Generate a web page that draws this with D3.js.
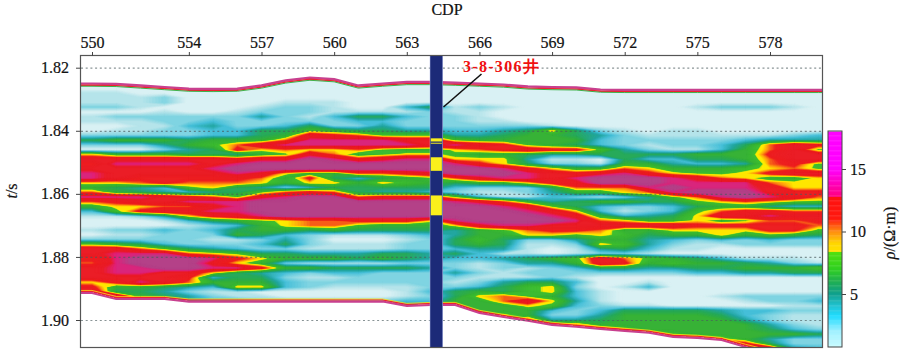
<!DOCTYPE html>
<html><head><meta charset="utf-8">
<script src="https://cdnjs.cloudflare.com/ajax/libs/d3/7.8.5/d3.min.js"></script>
<style>
html,body{margin:0;padding:0;background:#fff}
svg{display:block}
text{font-family:"Liberation Serif",serif;fill:#111;stroke:#111;stroke-width:.2px}
</style></head><body>
<svg id="c" width="906" height="353"></svg>
<script>
// ---- data ----
const cdpTicks=[550,554,557,560,563,566,569,572,575,578];
const timeTicks=[1.82,1.84,1.86,1.88,1.90];
const barTicks=[5,10,15];
const firstCdp=550, firstTime=1.825, timeStep=0.0015;
const topEdge=[1.8255,1.8256,1.8261,1.8266,1.8271,1.8272,1.8271,1.8261,1.8245,1.8236,1.8241,1.8261,1.8255,1.825,1.825,1.8252,1.8255,1.8258,1.8264,1.8266,1.8267,1.8274,1.8275,1.8275,1.8275,1.8275,1.8275,1.8275,1.8275,1.8275,1.8275];
const bottomEdge=[1.891,1.8929,1.8929,1.8929,1.8937,1.8937,1.8937,1.8937,1.8937,1.8937,1.8937,1.8937,1.8937,1.8951,1.8948,1.8948,1.8973,1.8986,1.8998,1.9011,1.9017,1.9024,1.903,1.9036,1.9049,1.9052,1.9059,1.9081,1.91,1.92,1.92];
const wellCdp=[563.97,564.47];
const wellLayers=[[1.8424,1.8434],[1.8438,1.8441],[1.8484,1.8527],[1.8605,1.8668]];
const wellName="3-8-306井";
// resistivity per time row (top to bottom) and CDP (left to right)
const rho=[
[1,1,1,1,1,1,1,1,1,1,1,1,1,1,1,1,1,1,1,1,1,1,1,1,1,1,1,1,1,1,1],
[1,1,1,1,1,1,1,1,1,1,1,1,1,1,1,1,1,1,1,1,1,1,1,1,1,1,1,1,1,1,1],
[2,2,1,1,1,1,1,1,1,1,1,1,1,1,1,1,1,1,1,1,1,1,1,1,1,1,1,1,1,1,1],
[2,2,2,3,1,1,1,1,1,1,1,1,1,1,1,1,1,1,1,1,1,1,1,1,1,1,1,1,1,1,1],
[2,2,2,3,1,1,1,1,2,2,2,1,1,1,1,1,1,1,1,1,1,1,1,1,1,1,1,1,1,1,1],
[3,3,2,1,1,1,1,2,3,3,2,1,1,4,6,2,3,2,1,1,1,1,1,1,1,2,3,3,3,2,1],
[1,1,1,2,1,1,2,3,3,3,2,2,2,2,3,2,2,1,1,1,1,1,1,1,1,1,1,1,1,1,1],
[2,3,3,3,3,3,3,5,3,2,4,6,6,4,3,3,2,1,1,1,1,1,1,1,1,1,1,1,1,1,1],
[2,2,2,3,3,4,3,3,3,3,3,4,4,3,3,3,2,2,1,1,1,1,1,1,1,1,1,1,1,1,1],
[1,1,2,2,4,5,3,3,4,6,3,3,5,3,3,3,3,3,3,2,1,1,1,1,1,1,1,1,1,1,1],
[1,2,2,3,3,4,4,6,6,8,7,6,6,5,5,4,4,5,6,9,6,3,2,1,2,2,1,1,1,1,1],
[3,3,3,3,3,4,4,6,7,12,11,10,8,8,8,5,5,6,7,7,6,5,3,2,2,2,2,2,2,3,4],
[6,7,7,7,6,7,7,7,10,13,13,13,13,12,12,8,7,7,7,7,7,4,3,3,3,3,3,4,5,5,5],
[3,3,3,5,7,8,10,12,13,13,13,13,13,13,12,13,12,11,8,7,6,4,3,2,3,3,4,6,10,12,11],
[1,1,1,3,5,6,11,9,10,9,9,10,8,7,7,9,10,11,12,11,11,8,5,3,2,2,4,7,10,12,8],
[9,7,7,7,6,6,5,7,8,12,10,7,8,9,9,8,7,7,6,5,5,6,6,6,6,7,7,7,11,12,12],
[12,12,12,12,12,12,11,12,12,14,13,11,12,13,13,9,9,9,5,2,2,1,6,4,4,6,6,7,10,12,12],
[11,13,13,13,13,12,13,14,14,14,14,14,14,14,14,13,11,9,6,3,3,2,7,7,5,4,4,5,10,11,8],
[12,12,12,12,12,13,14,14,14,14,14,14,14,14,14,14,14,13,11,9,7,7,10,9,7,7,7,8,9,10,8],
[13,12,12,12,12,12,13,12,9,7,7,10,10,11,12,14,14,14,13,12,11,12,13,11,9,8,8,9,11,12,12],
[13,12,11,11,11,11,11,10,7,11,6,4,6,7,8,10,12,13,13,12,13,14,14,14,13,12,10,9,7,7,9],
[9,9,10,11,10,10,10,9,7,9,9,7,9,8,7,6,7,7,9,11,12,14,14,14,13,13,13,13,10,9,9],
[7,6,5,4,8,9,6,5,3,4,6,6,6,6,6,4,3,3,3,6,10,10,10,13,14,13,13,13,12,9,9],
[10,7,6,5,4,5,6,8,10,11,10,6,5,5,4,3,2,2,3,5,7,7,9,10,13,14,14,14,12,11,11],
[13,13,13,12,11,10,8,12,13,14,14,10,11,11,11,8,4,2,2,4,3,2,3,5,8,10,13,14,13,12,10],
[10,11,12,12,13,13,13,14,14,14,14,14,14,14,14,13,12,10,7,5,6,7,7,6,6,8,9,10,9,8,8],
[7,9,9,10,10,12,13,14,14,14,14,14,14,14,14,14,14,13,12,8,6,4,3,3,4,6,7,7,5,4,4],
[4,8,11,12,12,13,13,14,14,14,14,14,14,14,14,14,14,14,13,12,9,4,2,3,4,8,10,11,11,10,10],
[2,2,3,5,9,11,12,13,14,14,14,14,14,14,14,14,14,14,14,13,12,7,4,5,6,9,12,12,13,12,12],
[1,1,1,2,4,6,7,8,9,10,10,11,11,11,9,13,14,14,14,14,13,10,9,7,7,9,7,8,10,10,11],
[1,1,1,1,2,3,4,7,9,10,10,8,7,7,7,9,12,13,13,12,12,12,12,12,12,11,11,11,11,11,10],
[2,3,3,4,3,4,6,7,7,6,7,6,6,6,6,5,7,8,10,11,11,10,7,7,9,9,9,9,11,11,8],
[1,2,2,3,3,3,7,6,4,3,2,2,2,3,4,5,7,7,9,9,8,9,8,6,7,7,9,7,8,7,6],
[3,3,3,3,3,2,2,3,5,3,1,1,1,2,3,6,8,6,3,3,5,7,7,5,4,3,4,3,4,3,3],
[8,7,6,4,3,3,3,4,6,3,2,2,2,3,3,6,7,6,2,2,3,9,8,5,3,2,2,3,3,3,3],
[12,12,10,8,6,5,4,3,3,2,2,2,2,3,3,4,5,5,2,1,2,5,6,4,2,2,1,1,1,1,1],
[12,13,13,13,10,9,8,6,6,5,5,5,6,6,5,6,4,2,2,1,2,3,3,2,1,1,1,1,1,1,1],
[11,13,14,14,14,13,11,9,7,7,7,6,7,6,5,4,4,5,6,7,8,12,10,8,7,6,4,2,2,2,1],
[10,13,14,14,14,12,9,7,3,2,2,2,2,3,3,3,2,3,5,5,7,12,11,7,8,7,7,6,5,3,2],
[12,13,13,14,14,13,13,11,7,7,6,6,6,6,5,3,2,3,2,3,4,6,6,5,5,6,6,7,7,7,8],
[12,13,13,12,12,9,6,5,4,3,4,4,3,3,3,5,3,2,3,3,3,3,3,3,3,4,4,5,5,6,6],
[12,12,12,12,11,4,6,6,3,2,2,3,3,3,3,3,2,2,2,3,2,1,1,1,1,1,1,1,1,1,1],
[9,11,13,12,10,7,7,7,4,3,3,3,3,3,3,2,3,5,6,6,4,1,1,2,1,1,1,1,1,1,1],
[11,7,7,6,5,4,9,9,4,3,2,2,2,2,3,3,4,6,8,9,3,1,2,4,1,1,1,1,1,1,1],
[13,6,6,5,3,2,2,1,1,1,1,1,1,2,4,6,7,6,8,9,4,2,1,1,1,1,1,1,1,1,1],
[14,13,7,6,5,3,2,2,1,1,1,1,1,2,3,6,9,10,8,7,4,2,1,1,1,1,2,3,3,3,3],
[14,11,7,6,5,4,4,3,3,3,3,3,3,4,4,7,7,10,12,9,5,2,1,1,1,1,1,2,3,3,4],
[5,5,5,5,5,5,5,5,5,5,5,5,5,5,5,7,7,7,9,8,4,3,2,2,1,1,1,1,1,2,2],
[5,5,5,5,5,5,5,5,5,5,5,5,5,5,5,5,7,7,7,4,3,4,6,6,6,6,5,4,4,3,3],
[5,5,5,5,5,5,5,5,5,5,5,5,5,5,5,5,7,9,7,3,3,5,7,7,7,7,6,4,3,2,2],
[5,5,5,5,5,5,5,5,5,5,5,5,5,5,5,5,7,7,11,5,5,6,7,7,7,7,7,5,3,2,2],
[5,5,5,5,5,5,5,5,5,5,5,5,5,5,5,5,7,7,7,9,10,7,7,7,7,7,7,7,5,3,2],
[5,5,5,5,5,5,5,5,5,5,5,5,5,5,5,5,7,7,7,7,12,11,9,7,7,7,7,7,6,4,3],
[5,5,5,5,5,5,5,5,5,5,5,5,5,5,5,5,7,7,7,7,7,7,7,12,8,7,7,7,7,7,6],
[5,5,5,5,5,5,5,5,5,5,5,5,5,5,5,5,7,7,7,7,7,7,7,7,12,11,9,7,5,3,3],
[5,5,5,5,5,5,5,5,5,5,5,5,5,5,5,5,7,7,7,7,7,7,7,7,7,7,13,11,6,3,3],
[5,5,5,5,5,5,5,5,5,5,5,5,5,5,5,5,7,7,7,7,7,7,7,7,7,7,7,14,12,5,4]
];
const heatStops=[1.2,2,3,4,5,6,7,8.5,8.55,9,9.6,10.4,12.4,12.9,13.5,15];
const heatColors=["#d9f1f4","#b5e4ea","#7fd4e2","#45bfd8","#22a6a0","#27aa5a","#37b236","#40c030","#fff000","#ffe600","#ff9a10","#ee2020","#ea1c28","#e0207a","#b44188","#b44188"];
const barStops=[0.8,2,3.2,4,5,6,7,8.3,8.35,9,10,11,12.75,12.8,15,18];
const barColors=["#c8fbff","#a0f0ff","#20dcff","#22c4d4","#10a08c","#20b050","#30d020","#50e010","#ffe000","#ffd800","#ff8a10","#ff1a10","#ff1010","#ff0080","#ff00ff","#ff00ff"];

// ---- layout ----
const plot={l:81,r:822,t:56,b:347};
const bar={l:828,r:842,t:131,b:347};
const x=d3.scaleLinear().domain([550,578]).range([92,770]);
const y=d3.scaleLinear().domain([1.82,1.90]).range([67.7,320]);
const v=d3.scaleLinear().domain([5,15]).range([294,169]);
const heat=d3.scaleLinear().domain(heatStops).range(heatColors).clamp(true);
const barColor=d3.scaleLinear().domain(barStops).range(barColors).clamp(true);
const svg=d3.select("#c");
const defs=svg.append("defs");
defs.append("clipPath").attr("id","plotClip").append("rect")
  .attr("x",plot.l).attr("y",plot.t).attr("width",plot.r-plot.l).attr("height",plot.b-plot.t);
const cdps=topEdge.map((_,i)=>firstCdp+i);
const edgeCdps=[firstCdp-1,...cdps,cdps[cdps.length-1]+2];
const padEdge=a=>[a[0],...a,a[a.length-1]];
const tops=padEdge(topEdge), bots=padEdge(bottomEdge);
const bodyArea=d3.area().x((d,i)=>x(edgeCdps[i])).y0((d,i)=>y(tops[i])).y1((d,i)=>y(bots[i]));
defs.append("clipPath").attr("id","bodyClip").append("path").attr("d",bodyArea(edgeCdps));

// grid padded by one column each side and one row above
const padRow=r=>[r[0],...r,r[r.length-1]];
const gridRows=[rho[0],...rho].map(padRow);
const nx=gridRows[0].length, ny=gridRows.length;
const values=gridRows.flat();
const thresholds=d3.range(0.5,14.6,0.125).concat([8.54]).sort(d3.ascending);
const contours=d3.contours().size([nx,ny]).thresholds(thresholds)(values);
const project=d3.geoTransform({point(px,py){
  this.stream.point(x(firstCdp-1+(px-0.5)), y(firstTime+timeStep*(py-1.5)));
}});
const gp=d3.geoPath(project);

const root=svg.append("g").attr("clip-path","url(#plotClip)");
const body=root.append("g").attr("clip-path","url(#bodyClip)");
body.selectAll("path").data(contours).join("path")
  .attr("d",gp).attr("fill",d=>heat(d.value)).attr("stroke",d=>heat(d.value)).attr("stroke-width",0.3);

// horizon outlines of the section
const edgeLine=a=>d3.line().x((d,i)=>x(edgeCdps[i])).y((d,i)=>y(a[i]))(edgeCdps);
[[-1.4,"#c8408f",2.4],[0.2,"#ee2230",1.3],[1.2,"#3fb24a",1]].forEach(([o,c,w])=>{
  root.append("path").attr("d",edgeLine(tops)).attr("transform",`translate(0,${o})`).attr("fill","none").attr("stroke",c).attr("stroke-width",w);
});
[[1.4,"#c8408f",2.2],[-0.2,"#ee2230",1.3],[-1.2,"#ffe010",0.8]].forEach(([o,c,w])=>{
  root.append("path").attr("d",edgeLine(bots)).attr("transform",`translate(0,${o})`).attr("fill","none").attr("stroke",c).attr("stroke-width",w);
});

// dotted time lines
root.append("g").selectAll("line").data(timeTicks).join("line")
  .attr("x1",plot.l).attr("x2",plot.r).attr("y1",d=>y(d)+0.5).attr("y2",d=>y(d)+0.5)
  .attr("stroke","#4a5a5e").attr("stroke-opacity",0.65).attr("stroke-width",1.2).attr("stroke-dasharray","2 2.7");

// well
const well=root.append("g");
well.append("rect").attr("x",x(wellCdp[0])-0.5).attr("width",x(wellCdp[1])-x(wellCdp[0])+1).attr("y",plot.t).attr("height",plot.b-plot.t).attr("fill","#aab4e4");
well.append("rect").attr("x",x(wellCdp[0])).attr("width",x(wellCdp[1])-x(wellCdp[0])).attr("y",plot.t).attr("height",plot.b-plot.t).attr("fill","#1c2a78");
well.selectAll(".l").data(wellLayers).join("rect").attr("class","l")
  .attr("x",x(wellCdp[0])+0.5).attr("width",x(wellCdp[1])-x(wellCdp[0])-1)
  .attr("y",d=>y(d[0])).attr("height",d=>y(d[1])-y(d[0])).attr("fill","#fbf01c");

// frame and axes
svg.append("rect").attr("x",plot.l-0.5).attr("y",plot.t-0.5).attr("width",plot.r-plot.l+1).attr("height",plot.b-plot.t+1)
  .attr("fill","none").attr("stroke","#555").attr("stroke-width",1.2);
const style=g=>{g.select(".domain").remove();g.selectAll("line").attr("stroke","#444");
  g.selectAll("text").style("font-size","16px").style("font-family","'Liberation Serif',serif").attr("fill","#111");};
svg.append("g").attr("transform",`translate(0,${plot.t})`)
  .call(d3.axisTop(x).tickValues(cdpTicks).tickSize(4).tickPadding(4).tickFormat(d3.format("d"))).call(style);
svg.append("g").attr("transform",`translate(${plot.l},0)`)
  .call(d3.axisLeft(y).tickValues(timeTicks).tickSize(5).tickPadding(7).tickFormat(d3.format(".2f"))).call(style);

// well label and leader
svg.append("line").attr("x1",443.5).attr("y1",107).attr("x2",481.5).attr("y2",74).attr("stroke","#111").attr("stroke-width",1.6);
svg.append("text").attr("x",463).attr("y",72).text(wellName)
  .style("font-size","16px").style("font-weight","bold").style("letter-spacing","1.3px").style("fill","#f01010").style("stroke","none");

// titles
svg.append("text").attr("x",447).attr("y",15).attr("text-anchor","middle").style("font-size","16px").text("CDP");
const ty=svg.append("text").attr("transform","translate(17,191) rotate(-90)").attr("text-anchor","middle").style("font-size","16px");
ty.append("tspan").style("font-style","italic").text("t");ty.append("tspan").text("/s");
const tb=svg.append("text").attr("transform","translate(895,233) rotate(-90)").attr("text-anchor","middle").style("font-size","16px");
tb.append("tspan").style("font-style","italic").text("ρ");tb.append("tspan").text("/(Ω·m)");

// colour bar
const barVals=d3.range(0.8,18,0.1);
svg.append("g").selectAll("rect").data(barVals).join("rect")
  .attr("x",bar.l).attr("width",bar.r-bar.l)
  .attr("y",d=>Math.max(bar.t,v(d+0.1)))
  .attr("height",d=>Math.min(bar.b,v(d))-Math.max(bar.t,v(d+0.1))+0.4)
  .attr("fill",d=>barColor(d));
svg.append("rect").attr("x",bar.l).attr("y",bar.t).attr("width",bar.r-bar.l).attr("height",bar.b-bar.t)
  .attr("fill","none").attr("stroke","#444").attr("stroke-width",1);
svg.append("g").attr("transform",`translate(${bar.r},0)`)
  .call(d3.axisRight(v).tickValues(barTicks).tickSize(4).tickPadding(4).tickFormat(d3.format("d"))).call(style);
</script>
</body></html>
